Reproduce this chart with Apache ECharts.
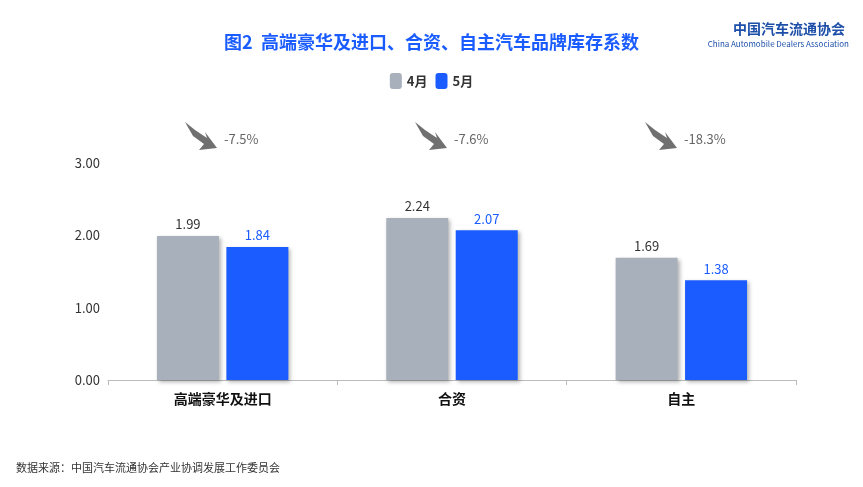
<!DOCTYPE html>
<html><head><meta charset="utf-8">
<script src="https://cdn.jsdelivr.net/npm/echarts@6/dist/echarts.min.js"></script>
<style>html,body{margin:0;padding:0;background:#fff}#c{width:863px;height:487px}</style>
</head><body><div id="c"></div>
<script>
var categories = ['高端豪华及进口', '合资', '自主'];
var april = [1.99, 2.24, 1.69];
var may = [1.84, 2.07, 1.38];
var changes = ['-7.5%', '-7.6%', '-18.3%'];
var yTicks = [0, 1, 2, 3];

var chart = echarts.init(document.getElementById('c'));
var font = '"Noto Sans CJK SC", sans-serif';

// 下降箭头 + 百分比
var graphics = [];
var ax = [200, 430, 660];
ax.forEach(function (x, i) {
    graphics.push({
        type: 'polygon', x: x - 15, y: 122,
        shape: { points: [[0, 0], [10, 8], [22, 16], [20, 10], [32, 26], [14, 28], [19, 22], [8, 14]] },
        style: { fill: '#707070' }
    });
    graphics.push({
        type: 'text', left: x + 24, top: 133,
        style: { text: changes[i], fill: '#666', font: '13px ' + font }
    });
});
graphics.push({ type: 'text', right: 18, top: 22, style: { text: '中国汽车流通协会', fill: '#1d4fa8', font: 'bold 14px ' + font } });
graphics.push({ type: 'text', right: 14, top: 40, style: { text: 'China Automobile Dealers Association', fill: '#1d4fa8', font: '8px ' + font } });
graphics.push({ type: 'text', left: 16, top: 462, style: { text: '数据来源：中国汽车流通协会产业协调发展工作委员会', fill: '#333', font: '11px ' + font } });

chart.setOption({
    textStyle: { fontFamily: font },
    title: {
        text: '图2  高端豪华及进口、合资、自主汽车品牌库存系数',
        left: 'center', top: 28,
        textStyle: { color: '#1a5cff', fontSize: 18, fontWeight: 'bold' }
    },
    legend: {
        top: 68, left: 'center',
        itemWidth: 12, itemHeight: 16,
        textStyle: { fontSize: 13, fontWeight: 'bold', color: '#333' },
        data: ['4月', '5月']
    },
    grid: { left: 108, right: 67, top: 163, bottom: 107 },
    xAxis: {
        type: 'category', data: categories,
        axisLine: { lineStyle: { color: '#bbb' } },
        axisTick: { show: true, lineStyle: { color: '#bbb' } },
        axisLabel: { color: '#111', fontSize: 14, fontWeight: 'bold', margin: 12 }
    },
    yAxis: {
        type: 'value', min: 0, max: 3, interval: 1,
        splitLine: { show: false },
        axisLabel: { color: '#333', fontSize: 13, formatter: function (v) { return v.toFixed(2); } }
    },
    series: [{
        name: '4月', type: 'bar', data: april, barWidth: 62, barGap: '12%',
        itemStyle: { color: '#a8b0bb', shadowColor: 'rgba(0,0,0,0.3)', shadowBlur: 4, shadowOffsetX: 2, shadowOffsetY: 2 },
        label: { show: true, position: 'top', color: '#333', fontSize: 13, formatter: function (p) { return p.value.toFixed(2); } }
    }, {
        name: '5月', type: 'bar', data: may, barWidth: 62,
        itemStyle: { color: '#1a5cff', shadowColor: 'rgba(0,0,0,0.3)', shadowBlur: 4, shadowOffsetX: 2, shadowOffsetY: 2 },
        label: { show: true, position: 'top', color: '#1a5cff', fontSize: 13, formatter: function (p) { return p.value.toFixed(2); } }
    }],
    graphic: graphics
});
</script></body></html>
